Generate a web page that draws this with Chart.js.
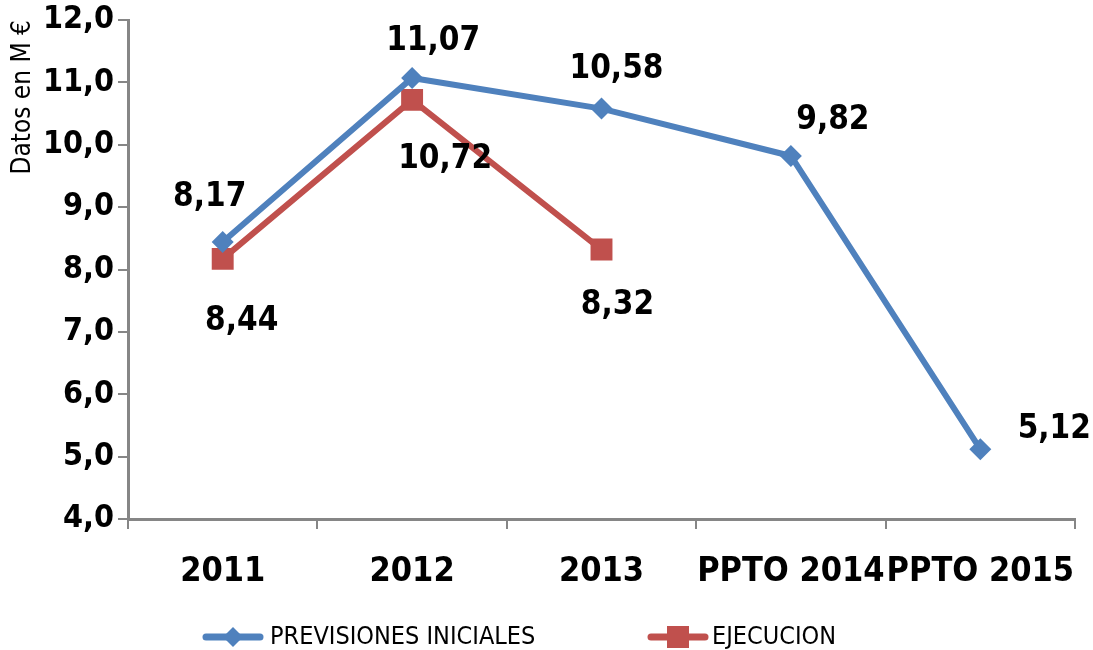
<!DOCTYPE html>
<html>
<head>
<meta charset="utf-8">
<script src="https://cdn.jsdelivr.net/npm/chart.js@4"></script>
<style>
  html, body { margin: 0; padding: 0; background: #fff; }
  #wrap { width: 1093px; height: 650px; }
</style>
</head>
<body>
<div id="wrap"><canvas id="chart" width="1093" height="650"></canvas></div>
<script>
const categories = ['2011', '2012', '2013', 'PPTO 2014', 'PPTO 2015'];
const previsiones = [8.44, 11.07, 10.58, 9.82, 5.12];
const ejecucion = [8.17, 10.72, 8.32, null, null];
// label texts as printed in the original chart
const previsionesLabels = ['8,17', '11,07', '10,58', '9,82', '5,12'];
const ejecucionLabels = ['8,44', '10,72', '8,32'];
const yTicks = [4, 5, 6, 7, 8, 9, 10, 11, 12];

const FONT = '"DejaVu Sans Condensed", "DejaVu Sans", Arial, sans-serif';
const BLUE = '#4F81BD';
const RED = '#C0504D';
const AXIS = '#868686';

// offsets of each data label from its point (pixels)
const labelOffsets = [
  [[-13, -45], [21, -37], [15, -39], [42, -36], [74, -20]],
  [[19, 63], [33, 60], [16, 56]]
];
const labelTexts = [previsionesLabels, ejecucionLabels];

const dataLabels = {
  id: 'dataLabels',
  afterDatasetsDraw(chart) {
    const ctx = chart.ctx;
    ctx.save();
    ctx.font = 'bold 33px ' + FONT;
    ctx.fillStyle = '#000';
    ctx.textAlign = 'center';
    ctx.textBaseline = 'middle';
    chart.data.datasets.forEach((ds, di) => {
      chart.getDatasetMeta(di).data.forEach((pt, i) => {
        const txt = labelTexts[di][i];
        if (!txt || ds.data[i] == null) return;
        const off = labelOffsets[di][i];
        ctx.fillText(txt, pt.x + off[0], pt.y + off[1]);
      });
    });
    ctx.restore();
  }
};

const bottomLegend = {
  id: 'bottomLegend',
  afterDraw(chart) {
    const ctx = chart.ctx;
    const y = 637;
    const items = [[203, 270], [648, 712]];
    ctx.save();
    ctx.font = '25px ' + FONT;
    ctx.textBaseline = 'middle';
    chart.data.datasets.forEach((ds, di) => {
      const x0 = items[di][0];
      ctx.strokeStyle = ds.borderColor;
      ctx.lineWidth = 7;
      ctx.lineCap = 'round';
      ctx.beginPath();
      ctx.moveTo(x0 + 3, y);
      ctx.lineTo(x0 + 57, y);
      ctx.stroke();
      const cx = x0 + 30;
      ctx.fillStyle = ds.backgroundColor;
      if (ds.pointStyle === 'rectRot') {
        ctx.beginPath();
        ctx.moveTo(cx, y - 10); ctx.lineTo(cx + 10, y); ctx.lineTo(cx, y + 10); ctx.lineTo(cx - 10, y);
        ctx.closePath(); ctx.fill();
      } else {
        ctx.fillRect(cx - 11, y - 11, 22, 22);
      }
      ctx.fillStyle = '#000';
      ctx.fillText(ds.label, items[di][1], y);
    });
    ctx.restore();
  }
};

new Chart(document.getElementById('chart'), {
  type: 'line',
  data: {
    labels: categories,
    datasets: [
      {
        label: 'PREVISIONES INICIALES',
        data: previsiones,
        borderColor: BLUE,
        backgroundColor: BLUE,
        borderWidth: 6,
        pointStyle: 'rectRot',
        pointRadius: 11,
        pointBorderWidth: 0,
        tension: 0
      },
      {
        label: 'EJECUCION',
        data: ejecucion,
        borderColor: RED,
        backgroundColor: RED,
        borderWidth: 6,
        pointStyle: 'rect',
        pointRadius: 15.5,
        pointBorderWidth: 0,
        tension: 0
      }
    ]
  },
  options: {
    responsive: false,
    animation: false,
    layout: { padding: { top: 20, right: 18, bottom: 60, left: 0 } },
    plugins: {
      legend: { display: false },
      tooltip: { enabled: false }
    },
    scales: {
      x: {
        offset: true,
        grid: { offset: true, drawOnChartArea: false, drawTicks: true, tickLength: 10, color: AXIS, lineWidth: 2 },
        border: { color: AXIS, width: 3 },
        ticks: { color: '#000', font: { family: FONT, size: 34, weight: 'bold' }, padding: 23, maxRotation: 0, autoSkip: false },
        afterFit(scale) {
          scale.height = 71;
          scale.paddingLeft = 0;
          scale.paddingRight = 0;
        }
      },
      y: {
        min: 4,
        max: 12,
        afterBuildTicks(scale) { scale.ticks = yTicks.map(v => ({ value: v })); },
        grid: { drawOnChartArea: false, drawTicks: true, tickLength: 10, color: AXIS, lineWidth: 2 },
        border: { color: AXIS, width: 3 },
        ticks: {
          color: '#000',
          font: { family: FONT, size: 32, weight: 'bold' },
          padding: 4,
          callback: v => v.toFixed(1).replace('.', ',')
        },
        title: {
          display: true,
          text: 'Datos en M €',
          align: 'end',
          color: '#000',
          font: { family: FONT, size: 26 },
          padding: { top: 8, bottom: 0 }
        },
        afterFit(scale) {
          scale.width = 128;
          scale.paddingTop = 0;
          scale.paddingBottom = 0;
        }
      }
    }
  },
  plugins: [dataLabels, bottomLegend]
});
</script>
</body>
</html>
